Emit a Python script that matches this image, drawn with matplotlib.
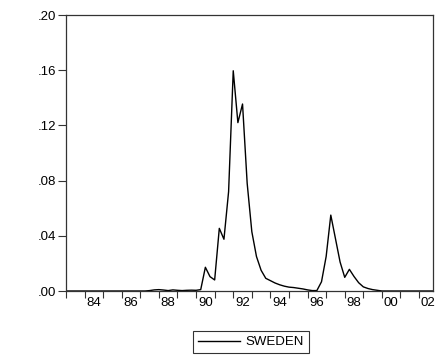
import numpy as np
import matplotlib.pyplot as plt
from matplotlib.ticker import FuncFormatter

plt.rcParams['font.family'] = ['Liberation Sans', 'DejaVu Sans']

# quarterly series, 1983Q1 - 2002Q4
start_year = 1983
sweden = [0.0] * 18 + [
    0.0003, 0.0008, 0.0010, 0.0007, 0.0003, 0.0008, 0.0005, 0.0003,   # 1987Q3 - 1989Q2
    0.0005, 0.0006, 0.0005, 0.0010, 0.0172, 0.0104, 0.0080, 0.0454,   # 1989Q3 - 1991Q2
    0.0375, 0.0720, 0.1596, 0.1220, 0.1355, 0.0780, 0.0430, 0.0250,   # 1991Q3 - 1993Q2
    0.0150, 0.0092, 0.0075, 0.0058, 0.0045, 0.0035, 0.0028, 0.0025,   # 1993Q3 - 1995Q2
    0.0020, 0.0015, 0.0008, 0.0003, 0.0003, 0.0067, 0.0250, 0.0550,   # 1995Q3 - 1997Q2
    0.0380, 0.0210, 0.0099, 0.0157, 0.0105, 0.0060, 0.0030, 0.0018,   # 1997Q3 - 1999Q2
    0.0010, 0.0005]
sweden = sweden + [0.0] * (80 - len(sweden))
t = start_year + np.arange(len(sweden)) / 4

years = np.arange(1983, 2003)
label_years = np.arange(1984, 2003, 2)

fig = plt.figure(figsize=(4.42, 3.58), dpi=100)
ax = fig.add_axes([66/442, 1 - 291/358, 367/442, 276/358])

line, = ax.plot(t, sweden, color='black', lw=1.0, label='SWEDEN')

ax.set_xlim(t[0], t[-1])
ax.set_ylim(0, 0.20)
ax.set_yticks([0, 0.04, 0.08, 0.12, 0.16, 0.20])
ax.yaxis.set_major_formatter(FuncFormatter(lambda v, p: ('%.2f' % v)[1:]))

ax.set_xticks(years)
ax.set_xticklabels([])
ax.set_xticks(label_years + 0.5, minor=True)
ax.set_xticklabels(['%02d' % (y % 100) for y in label_years], minor=True)
ax.tick_params(axis='x', which='major', direction='out', length=5, width=0.8, color='#333333')
ax.tick_params(axis='x', which='minor', length=0, pad=4, labelsize=9.5)
ax.tick_params(axis='y', direction='out', length=6, width=0.8, pad=1, labelsize=9.5, color='#333333')

for s in ax.spines.values():
    s.set_linewidth(0.9)
    s.set_color('#333333')

fig.legend(handles=[line], loc='center', bbox_to_anchor=(251/442, 1 - 342/358),
           frameon=True, fancybox=False, edgecolor='black', fontsize=9.5,
           handlelength=3.2, handletextpad=0.4, borderpad=0.35, borderaxespad=0)
fig.legends[0].get_frame().set_linewidth(0.8)

fig.savefig('out.png', dpi=100)
